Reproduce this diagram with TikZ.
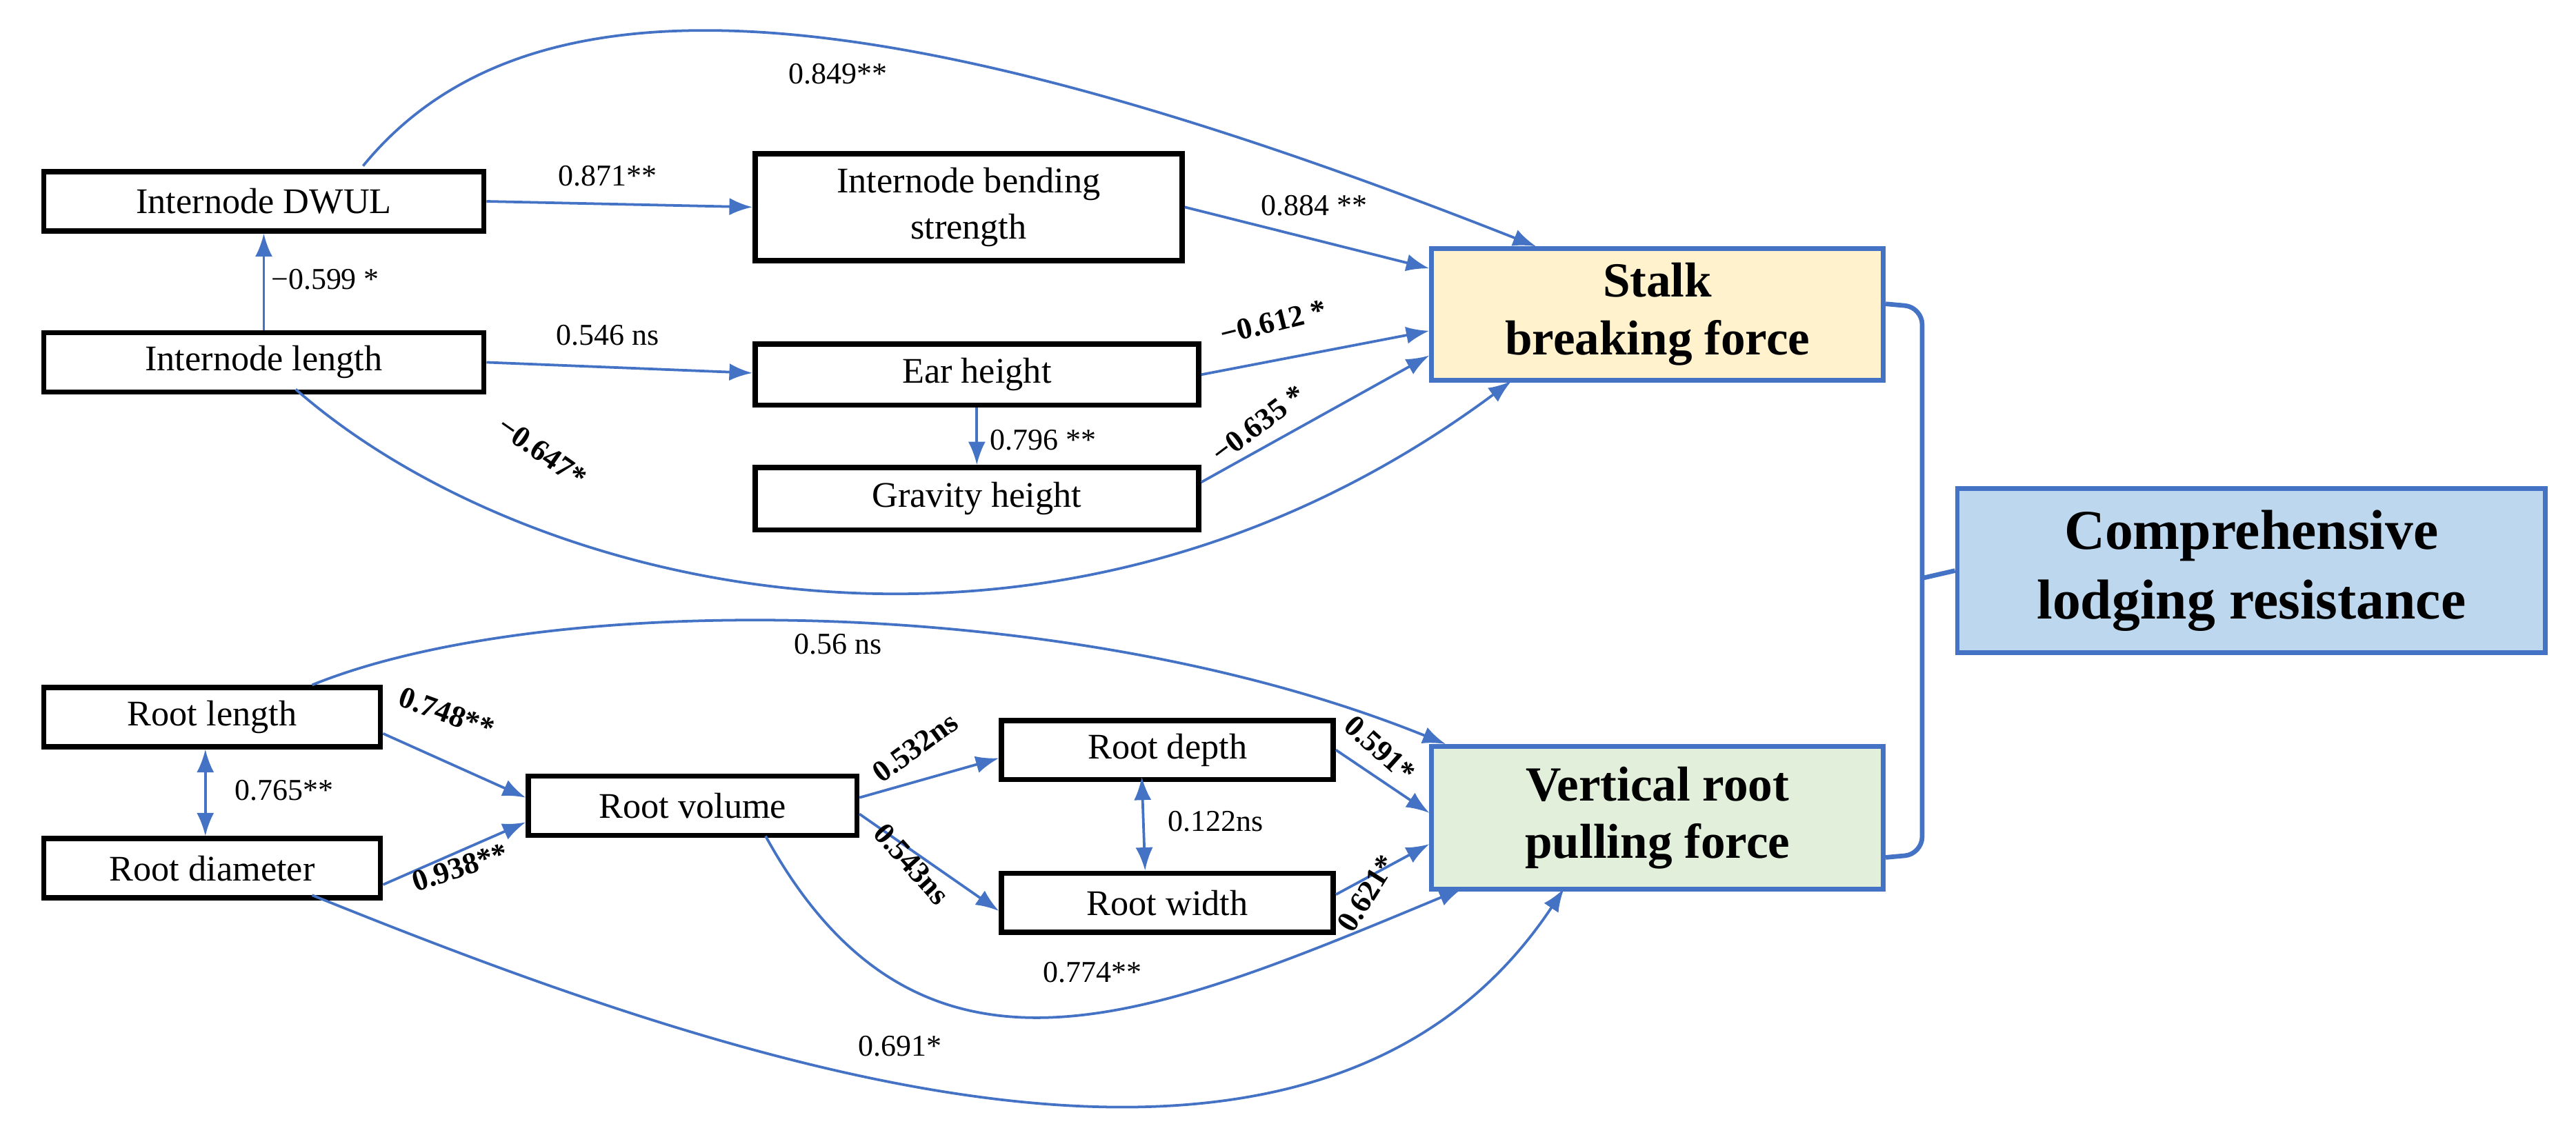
\documentclass[tikz,border=0pt]{standalone}
\usepackage{fontspec}
\setmainfont{Liberation Serif}
\usetikzlibrary{arrows.meta}
\definecolor{lb}{HTML}{4472C4}
\definecolor{yel}{HTML}{FFF2CC}
\definecolor{grn}{HTML}{E2EFDA}
\definecolor{blu}{HTML}{BDD7EE}
\begin{document}
\begin{tikzpicture}[x=0.02cm,y=-0.02cm,
  box/.style={draw=black,line width=1.8pt,fill=white,font=\fontsize{12.5}{14}\selectfont,align=center,inner sep=0pt},
  big/.style={draw=lb,line width=1.6pt,font=\fontsize{17}{20}\selectfont\bfseries,align=center,inner sep=0pt},
  ar/.style={draw=lb,line width=0.9pt,-{Latex[length=8pt,width=6pt]}},
  dar/.style={draw=lb,line width=0.9pt,{Latex[length=8pt,width=6pt]}-{Latex[length=8pt,width=6pt]}},
  lab/.style={font=\fontsize{10.5}{12}\selectfont,inner sep=1pt},
  blab/.style={font=\fontsize{10.5}{12}\selectfont\bfseries,inner sep=1pt}]
\useasboundingbox (0,0) rectangle (1568,691);
% boxes
\node[box,minimum width=268*0.02cm,minimum height=36*0.02cm,anchor=north west] (dwul) at (25,103) {Internode DWUL};
\node[box,minimum width=268*0.02cm,minimum height=36*0.02cm,anchor=north west] (len) at (25,201) {Internode length};
\node[box,minimum width=260*0.02cm,minimum height=65*0.02cm,anchor=north west] (ibs) at (458,92) {Internode bending\\[2pt]strength};
\node[box,minimum width=270*0.02cm,minimum height=37*0.02cm,anchor=north west] (ear) at (458,208) {Ear height};
\node[box,minimum width=270*0.02cm,minimum height=38*0.02cm,anchor=north west] (grav) at (458,283) {Gravity height};
\node[big,fill=yel,minimum width=275*0.02cm,minimum height=80*0.02cm,anchor=north west] (sbf) at (870,150) {Stalk\\breaking force};
\node[big,fill=blu,minimum width=358*0.02cm,minimum height=100*0.02cm,anchor=north west,font=\fontsize{19.5}{24}\selectfont\bfseries] (clr) at (1190,296) {Comprehensive\\lodging resistance};
\node[box,minimum width=205*0.02cm,minimum height=36*0.02cm,anchor=north west] (rl) at (25,417) {Root length};
\node[box,minimum width=205*0.02cm,minimum height=36*0.02cm,anchor=north west] (rd) at (25,509) {Root diameter};
\node[box,minimum width=200*0.02cm,minimum height=36*0.02cm,anchor=north west] (rv) at (320,471) {Root volume};
\node[box,minimum width=202*0.02cm,minimum height=36*0.02cm,anchor=north west] (rdep) at (608,437) {Root depth};
\node[box,minimum width=202*0.02cm,minimum height=36*0.02cm,anchor=north west] (rw) at (608,530) {Root width};
\node[big,fill=grn,minimum width=275*0.02cm,minimum height=87*0.02cm,anchor=north west] (vrp) at (870,453) {Vertical root\\pulling force};
% coordinates
\coordinate (a1) at (221,101); \coordinate (b1) at (935,150);
\coordinate (a2) at (180,237); \coordinate (b2) at (920,232);
\coordinate (a3) at (190,417); \coordinate (b3) at (880,453);
\coordinate (a4) at (466,509); \coordinate (b4) at (890,541);
\coordinate (a5) at (190,545); \coordinate (b5) at (952,541);
% stalk edges
\draw[ar] (a1) .. controls (320,-20) and (530,-10) .. (b1);
\node[lab] at (510,45) {0.849**};
\draw[ar] (dwul.east) -- (ibs.west);
\node[lab] at (370,107) {0.871**};
\draw[ar] (len.north) -- (dwul.south);
\node[lab,anchor=west] at (163,170) {−0.599 *};
\draw[ar] (len.east) -- ([yshift=0.02cm]ear.west);
\node[lab] at (370,204) {0.546 ns};
\draw[ar] (ibs.east) -- ([yshift=0.56cm]sbf.west);
\node[lab] at (800,125) {0.884 **};
\draw[ar] (ear.east) -- ([yshift=-0.2cm]sbf.west);
\node[blab,rotate=14] at (775,196) {−0.612 *};
\draw[ar] ([yshift=0.2cm]grav.east) -- ([yshift=-0.5cm]sbf.west);
\node[blab,rotate=37] at (766,258) {−0.635 *};
\draw[ar] (ear.south) -- (grav.north);
\node[lab] at (635,268) {0.796 **};
\draw[ar] (a2) .. controls (320,360) and (640,440) .. (b2);
\node[blab,rotate=-35] at (330,275) {−0.647*};
% root edges
\draw[ar] (a3) .. controls (330,360) and (650,360) .. (b3);
\node[lab] at (510,392) {0.56 ns};
\draw[ar] ([yshift=-0.2cm]rl.east) -- ([yshift=0.1cm]rv.west);
\node[blab,rotate=-20] at (272,434) {0.748**};
\draw[ar] ([yshift=-0.2cm]rd.east) -- ([yshift=-0.2cm]rv.west);
\node[blab,rotate=18] at (280,528) {0.938**};
\draw[dar] (rl.south -| 125,0) -- (rd.north -| 125,0);
\node[lab] at (173,481) {0.765**};
\draw[ar] ([yshift=0.1cm]rv.east) -- ([yshift=-0.1cm]rdep.west);
\node[blab,rotate=36] at (557,455) {0.532ns};
\draw[ar] ([yshift=-0.1cm]rv.east) -- ([yshift=-0.1cm]rw.west);
\node[blab,rotate=-48] at (555,526) {0.543ns};
\draw[dar] (695,473) -- (697,530);
\node[lab] at (740,500) {0.122ns};
\draw[ar] (rdep.east) -- ([yshift=0.06cm]vrp.west);
\node[blab,rotate=-42] at (840,456) {0.591*};
\draw[ar] ([yshift=0.1cm]rw.east) -- ([yshift=-0.32cm]vrp.west);
\node[blab,rotate=58] at (832,544) {0.621*};
\draw[ar] (a4) .. controls (560,680) and (700,620) .. (b4);
\node[lab] at (665,592) {0.774**};
\draw[ar] (a5) .. controls (450,650) and (800,770) .. (b5);
\node[lab] at (548,637) {0.691*};
% bracket
\draw[draw=lb,line width=1.6pt,rounded corners=6pt] (sbf.east |- 0,185) -- (1170,187) -- (1170,520) -- (vrp.east |- 0,522);
\draw[draw=lb,line width=1.6pt] (1170,352) -- (clr.west);
\end{tikzpicture}
\end{document}
